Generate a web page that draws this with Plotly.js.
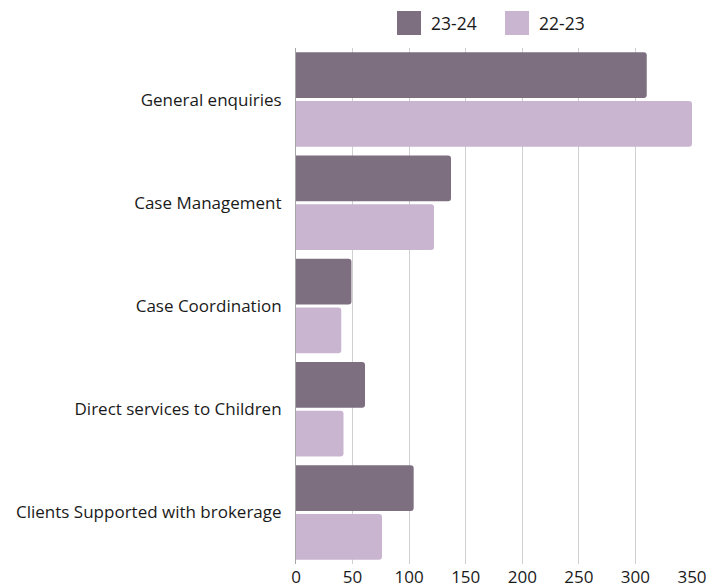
<!DOCTYPE html>
<html>
<head>
<meta charset="utf-8">
<script src="https://cdn.plot.ly/plotly-3.0.1.min.js"></script>
<style>html,body{margin:0;padding:0;background:#fff;}#chart{width:706px;height:588px;}</style>
</head>
<body>
<div id="chart"></div>
<script>
const categories = ["General enquiries", "Case Management", "Case Coordination", "Direct services to Children", "Clients Supported with brokerage"];
const series2324 = [310, 137, 49, 61, 104];
const series2223 = [350, 122, 40, 42, 76];
const seriesNames = ["23-24", "22-23"];
const xTicks = [0, 50, 100, 150, 200, 250, 300, 350];

const colA = "#7d6f80";
const colB = "#cab5d1";
const fontFam = "Open Sans, Noto Sans, sans-serif";

const traces = [
  {type: "bar", orientation: "h", name: seriesNames[0], y: categories, x: series2324, marker: {color: colA}, showlegend: false, hoverinfo: "x+name"},
  {type: "bar", orientation: "h", name: seriesNames[1], y: categories, x: series2223, marker: {color: colB}, showlegend: false, hoverinfo: "x+name"}
];

const T = 48, B = 24, H = 588 - T - B;

const layout = {
  width: 706, height: 588,
  margin: {l: 296, r: 14, t: T, b: B, pad: 0},
  paper_bgcolor: "#fff", plot_bgcolor: "#fff",
  barmode: "group",
  bargap: 0.055,
  bargroupgap: 0.0625,
  barcornerradius: 3,
  font: {family: fontFam, size: 17, color: "#1a1a1a"},
  xaxis: {range: [0, 350], tickvals: xTicks, ticktext: xTicks.map(String), showgrid: true, gridcolor: "#d0d0d0", gridwidth: 1, zeroline: false, showline: false, ticks: "", ticklabelstandoff: 1, ticklabeloverflow: "allow", tickfont: {size: 17, color: "#1a1a1a"}, fixedrange: true},
  yaxis: {autorange: "reversed", showline: true, linecolor: "#a6a6a6", linewidth: 1, showgrid: false, ticks: "", ticklabelstandoff: 10, tickfont: {size: 17, color: "#1a1a1a"}, fixedrange: true},
  showlegend: false,
  shapes: [
    {type: "rect", xref: "paper", yref: "paper", x0: (397-296)/396, x1: (421-296)/396, y0: (588-B-35)/H, y1: (588-B-11)/H, fillcolor: colA, line: {width: 0}},
    {type: "rect", xref: "paper", yref: "paper", x0: (505-296)/396, x1: (529-296)/396, y0: (588-B-35)/H, y1: (588-B-11)/H, fillcolor: colB, line: {width: 0}}
  ],
  annotations: [
    {xref: "paper", yref: "paper", x: (429-296)/396, y: (588-B-23)/H, xanchor: "left", yanchor: "middle", text: seriesNames[0], showarrow: false, font: {size: 17.5, color: "#1a1a1a"}},
    {xref: "paper", yref: "paper", x: (537-296)/396, y: (588-B-23)/H, xanchor: "left", yanchor: "middle", text: seriesNames[1], showarrow: false, font: {size: 17.5, color: "#1a1a1a"}}
  ]
};

Plotly.newPlot("chart", traces, layout, {displayModeBar: false, staticPlot: true});
</script>
</body>
</html>
